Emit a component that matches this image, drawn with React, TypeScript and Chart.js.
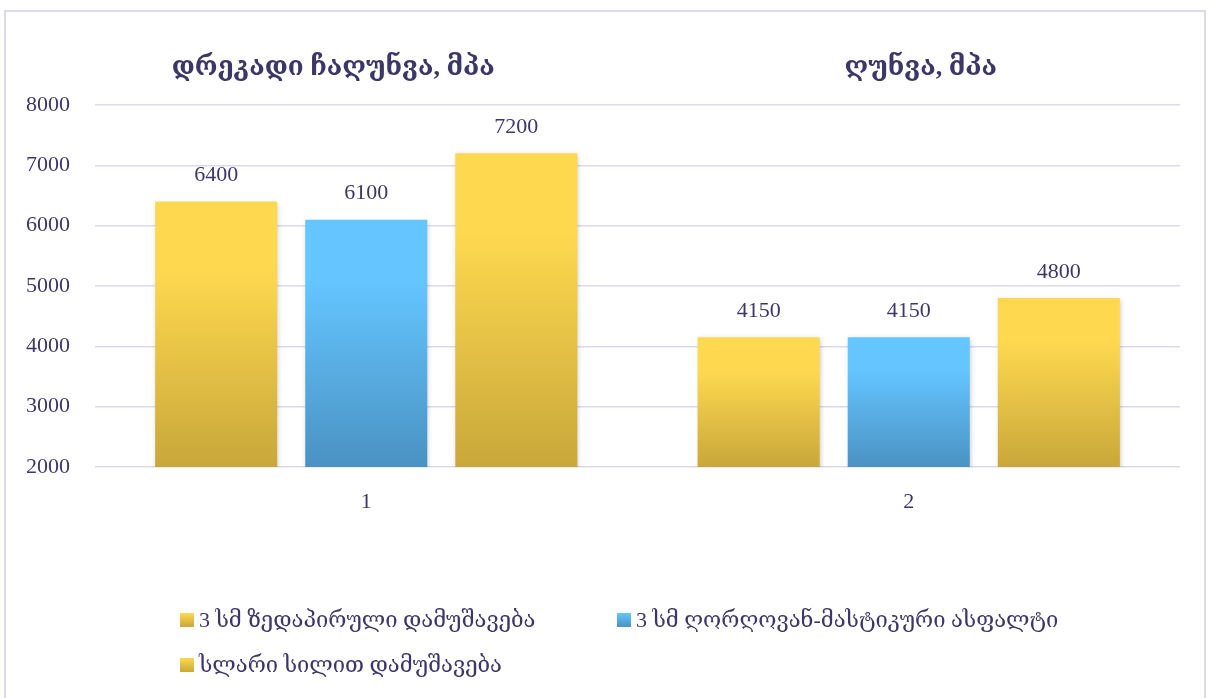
import React, { useEffect, useRef } from 'react';
import { Chart, registerables } from 'chart.js';

Chart.register(...registerables);

const categories = ['1', '2'];
const groupTitles = ['დრეკადი ჩაღუნვა, მპა', 'ღუნვა, მპა'];
const seriesNames = [
  '3 სმ ზედაპირული დამუშავება',
  '3 სმ ღორღოვან-მასტიკური ასფალტი',
  'სლარი სილით დამუშავება',
];
const surfaceValues = [6400, 4150];
const smaValues = [6100, 4150];
const slurryValues = [7200, 4800];
const yMin = 2000;
const yMax = 8000;
const yStep = 1000;

const FONT = '"Liberation Serif", "DejaVu Serif", serif';
const TEXT = '#3d3768';
const GRID = '#dcdaeb';
const YELLOW: [string, string] = ['#fed94f', '#c9a73a'];
const BLUE: [string, string] = ['#64c5ff', '#4a92c2'];
const palette = [YELLOW, BLUE, YELLOW];

function barGradient(colors: [string, string]) {
  return (ctx: any) => {
    const chart = ctx.chart;
    if (!chart.chartArea || ctx.raw == null) return colors[0];
    const y = chart.scales.y;
    const top = y.getPixelForValue(ctx.raw);
    const bottom = y.getPixelForValue(yMin);
    if (!isFinite(top) || !isFinite(bottom) || top === bottom) return colors[0];
    const g = chart.ctx.createLinearGradient(0, top, 0, bottom);
    g.addColorStop(0, colors[0]);
    g.addColorStop(0.25, colors[0]);
    g.addColorStop(1, colors[1]);
    return g;
  };
}

const shadowPlugin = {
  id: 'barShadow',
  beforeDatasetsDraw(chart: any) {
    const c = chart.ctx;
    c.save();
    c.shadowColor = 'rgba(0,0,0,0.22)';
    c.shadowBlur = 5;
    c.shadowOffsetX = 1;
    c.shadowOffsetY = 2;
  },
  afterDatasetsDraw(chart: any) {
    chart.ctx.restore();
  },
};

const decorPlugin = {
  id: 'decor',
  afterDraw(chart: any) {
    const c = chart.ctx;
    const xs = chart.scales.x;
    c.save();
    // value labels
    c.font = `22px ${FONT}`;
    c.fillStyle = TEXT;
    c.textAlign = 'center';
    c.textBaseline = 'middle';
    chart.data.datasets.forEach((ds: any, di: number) => {
      const meta = chart.getDatasetMeta(di);
      meta.data.forEach((el: any, i: number) => {
        c.fillText(String(ds.data[i]), el.x, el.y - 26);
      });
    });
    // group titles
    c.font = `bold 26px ${FONT}`;
    const offs = [-33, 12];
    groupTitles.forEach((t, i) => {
      c.fillText(t, xs.getPixelForValue(i) + offs[i], 68);
    });
    // legend
    c.font = `22px ${FONT}`;
    c.textAlign = 'left';
    const items = [
      { x: 180, y: 620 },
      { x: 617, y: 620 },
      { x: 180, y: 665 },
    ];
    items.forEach((it, i) => {
      const s = 14;
      const g = c.createLinearGradient(0, it.y - s / 2, 0, it.y + s / 2);
      g.addColorStop(0, palette[i][0]);
      g.addColorStop(1, palette[i][1]);
      c.fillStyle = g;
      c.fillRect(it.x, it.y - s / 2, s, s);
      c.fillStyle = TEXT;
      c.fillText(seriesNames[i], it.x + 19, it.y + 1);
    });
    c.restore();
  },
};

export default function App() {
  const ref = useRef<HTMLCanvasElement | null>(null);

  useEffect(() => {
    if (!ref.current) return;
    const chart = new Chart(ref.current, {
      type: 'bar',
      data: {
        labels: categories,
        datasets: [
          { label: seriesNames[0], data: surfaceValues, backgroundColor: barGradient(YELLOW) },
          { label: seriesNames[1], data: smaValues, backgroundColor: barGradient(BLUE) },
          { label: seriesNames[2], data: slurryValues, backgroundColor: barGradient(YELLOW) },
        ].map((d) => ({ ...d, categoryPercentage: 0.83, barPercentage: 0.813, borderWidth: 0 })),
      },
      options: {
        animation: false,
        responsive: false,
        maintainAspectRatio: false,
        layout: { padding: { top: 105, right: 29, bottom: 171, left: 0 } },
        plugins: {
          legend: { display: false },
          title: { display: false },
          tooltip: { enabled: false },
        },
        scales: {
          x: {
            grid: { display: false, drawTicks: false },
            border: { display: false },
            ticks: { color: TEXT, font: { family: FONT, size: 22 }, padding: 22 },
            afterFit: (s: any) => {
              s.height = 60;
            },
          },
          y: {
            min: yMin,
            max: yMax,
            grid: { color: GRID, lineWidth: 1.6, drawTicks: false },
            border: { display: false },
            ticks: {
              stepSize: yStep,
              color: TEXT,
              font: { family: FONT, size: 22 },
              padding: 25,
              callback: (v: any) => String(v),
            },
            afterFit: (s: any) => {
              s.width = 95;
            },
          },
        },
      },
      plugins: [shadowPlugin, decorPlugin],
    });
    return () => chart.destroy();
  }, []);

  return (
    <div style={{ position: 'fixed', left: 0, top: 0, width: 1209, height: 698, background: '#fff', overflow: 'hidden' }}>
      <div
        style={{
          position: 'absolute',
          left: 4,
          top: 10,
          width: 1202,
          height: 720,
          border: '2px solid #dcdaeb',
          boxSizing: 'border-box',
        }}
      />
      <canvas ref={ref} width={1209} height={698} style={{ position: 'absolute', left: 0, top: 0 }} />
    </div>
  );
}
